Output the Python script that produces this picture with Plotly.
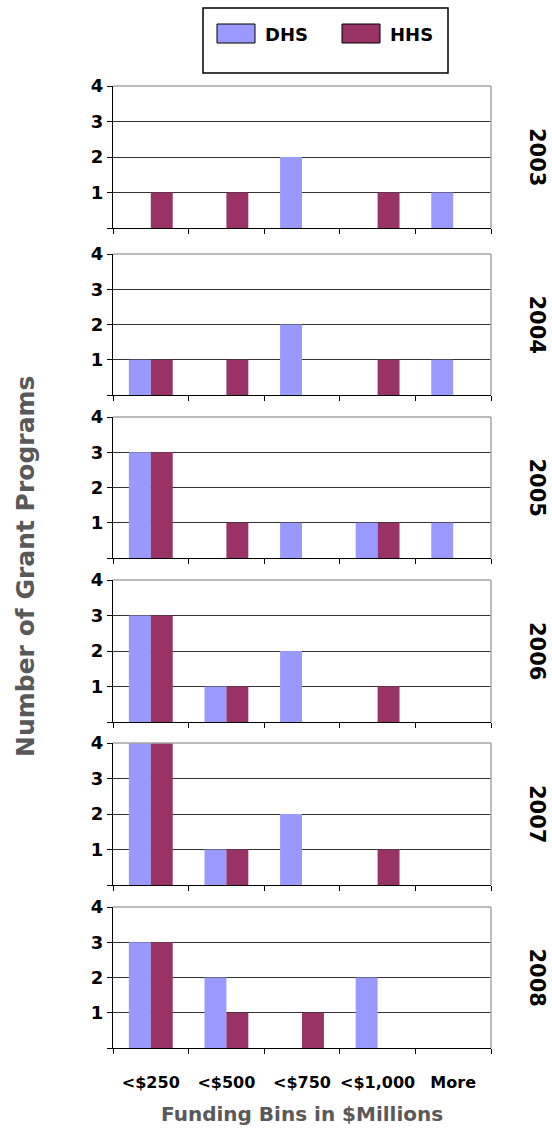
import plotly.graph_objects as go
from plotly.subplots import make_subplots

# ---------------- data ----------------
categories = ["<$250", "<$500", "<$750", "<$1,000", "More"]
years = ["2003", "2004", "2005", "2006", "2007", "2008"]
dhs_2003 = [0, 0, 2, 0, 1]
hhs_2003 = [1, 1, 0, 1, 0]
dhs_2004 = [1, 0, 2, 0, 1]
hhs_2004 = [1, 1, 0, 1, 0]
dhs_2005 = [3, 0, 1, 1, 1]
hhs_2005 = [3, 1, 0, 1, 0]
dhs_2006 = [3, 1, 2, 0, 0]
hhs_2006 = [3, 1, 0, 1, 0]
dhs_2007 = [4, 1, 2, 0, 0]
hhs_2007 = [4, 1, 0, 1, 0]
dhs_2008 = [3, 2, 0, 2, 0]
hhs_2008 = [3, 1, 1, 0, 0]
y_ticks = [0, 1, 2, 3, 4]
y_ticktext = ["", "1", "2", "3", "4"]

dhs_series = [dhs_2003, dhs_2004, dhs_2005, dhs_2006, dhs_2007, dhs_2008]
hhs_series = [hhs_2003, hhs_2004, hhs_2005, hhs_2006, hhs_2007, hhs_2008]

DHS_COLOR = "#9999FF"
HHS_COLOR = "#993366"
FONT = "DejaVu Sans"

# ---------------- layout geometry (pixels) ----------------
W, H = 552, 1129
L, R = 113, 491          # plot area left/right
T, B = 86, 1048          # plot area top/bottom
panels_px = [(86, 228), (254, 395), (417, 558), (580, 722), (743, 885), (907, 1048)]


def px(x):
    return (x - L) / (R - L)


def py(y):
    return (B - y) / (B - T)


fig = make_subplots(rows=6, cols=1)

for i, (yr, d, h) in enumerate(zip(years, dhs_series, hhs_series), start=1):
    fig.add_trace(go.Bar(x=categories, y=d, name="DHS", marker_color=DHS_COLOR,
                         marker_line_width=0, showlegend=False), row=i, col=1)
    fig.add_trace(go.Bar(x=categories, y=h, name="HHS", marker_color=HHS_COLOR,
                         marker_line_width=0, showlegend=False), row=i, col=1)

    top, bot = panels_px[i - 1]
    ysfx = "" if i == 1 else str(i)
    fig.layout[f"yaxis{ysfx}"].domain = [py(bot), py(top)]
    fig.update_yaxes(range=[0, 4], tickvals=y_ticks, ticktext=y_ticktext,
                     ticks="outside", ticklen=5, tickcolor="black",
                     showline=True, linecolor="black", linewidth=1,
                     showgrid=True, gridcolor="#333333", gridwidth=1,
                     zeroline=False,
                     tickfont=dict(family=FONT, size=18, color="black", weight="bold"),
                     row=i, col=1)
    fig.update_xaxes(tickson="boundaries", ticks="outside", ticklen=5,
                     tickcolor="black", showline=True, linecolor="black",
                     linewidth=1, showgrid=False, zeroline=False,
                     showticklabels=(i == 6), tickangle=0,
                     ticklabelstandoff=20,
                     tickfont=dict(family=FONT, size=16, color="black", weight="bold"),
                     row=i, col=1)

    # gray frame on top and right
    xref = f"x{ysfx} domain"
    yref = f"y{ysfx} domain"
    fig.add_shape(type="line", xref=xref, yref=yref, x0=0, x1=1, y0=1, y1=1,
                  line=dict(color="#a6a6a6", width=1.5), layer="above")
    fig.add_shape(type="line", xref=xref, yref=yref, x0=1, x1=1, y0=0, y1=1,
                  line=dict(color="#a6a6a6", width=1.5), layer="above")

    # year label
    fig.add_annotation(text=yr, xref="paper", yref=yref, x=px(537), y=0.5,
                       xanchor="center", yanchor="middle",
                       textangle=90, showarrow=False,
                       font=dict(family=FONT, size=21, color="black", weight="bold"))

# axis titles
fig.add_annotation(text="Number of Grant Programs", xref="paper", yref="paper",
                   x=px(25), y=py(567), xanchor="center", yanchor="middle",
                   textangle=-90, showarrow=False,
                   font=dict(family=FONT, size=25, color="#595959", weight="bold"))
fig.add_annotation(text="Funding Bins in $Millions", xref="paper", yref="paper",
                   x=0.5, y=py(1114), xanchor="center", yanchor="middle",
                   showarrow=False,
                   font=dict(family=FONT, size=20, color="#595959", weight="bold"))

# legend (drawn manually to match large swatches)
fig.add_shape(type="rect", xref="paper", yref="paper",
              x0=px(203), x1=px(448), y0=py(73), y1=py(8),
              line=dict(color="black", width=1.5), fillcolor="white")
for name, color, sx in [("DHS", DHS_COLOR, 217), ("HHS", HHS_COLOR, 342)]:
    fig.add_shape(type="rect", xref="paper", yref="paper",
                  x0=px(sx), x1=px(sx + 38), y0=py(43), y1=py(24),
                  line=dict(color="black", width=1), fillcolor=color)
    fig.add_annotation(text=name, xref="paper", yref="paper",
                       x=px(sx + 46), y=py(34), xanchor="left", yanchor="middle",
                       showarrow=False,
                       font=dict(family=FONT, size=18, color="black", weight="bold"))

fig.update_layout(
    width=W, height=H,
    margin=dict(l=L, r=W - R, t=T, b=H - B, autoexpand=False),
    barmode="group", bargap=0.42, bargroupgap=0,
    plot_bgcolor="white", paper_bgcolor="white",
    showlegend=False,
)

fig.write_html("out.html")
